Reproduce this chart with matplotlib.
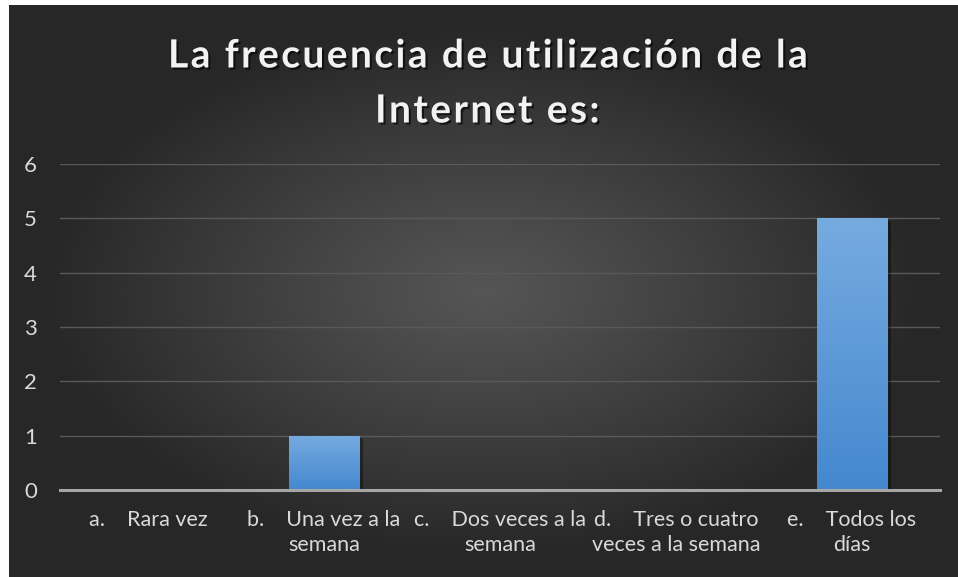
import numpy as np
import matplotlib.pyplot as plt
import matplotlib.patheffects as pe

categories = ["a.    Rara vez", "b.    Una vez a la\nsemana", "c.    Dos veces a la\nsemana",
              "d.    Tres o cuatro\nveces a la semana", "e.    Todos los\ndías"]
values = [0, 1, 0, 0, 5]
yticks = [0, 1, 2, 3, 4, 5, 6]
title_lines = ["La frecuencia de utilización de la", "Internet es:"]

W, H = 958, 577
fig = plt.figure(figsize=(W / 100, H / 100), dpi=100, facecolor="white")
fam = ["Lato", "DejaVu Sans"]

# radial gradient background
bg = fig.add_axes([9 / W, 0, (W - 9) / W, (H - 5) / H])
bg.set_axis_off()
yy, xx = np.mgrid[0:1:300j, 0:1:500j]
r = np.sqrt(((xx - 0.5) / 0.75) ** 2 + ((yy - 0.5) / 0.75) ** 2)
t = np.clip(r / 0.62, 0, 1) ** 1.1
c0 = np.array([0x55, 0x55, 0x55]) / 255
c1 = np.array([0x27, 0x27, 0x27]) / 255
img = c0[None, None, :] + (c1 - c0)[None, None, :] * t[:, :, None]
bg.imshow(img, aspect="auto", extent=[0, 1, 0, 1])
bg.set_xlim(0, 1)
bg.set_ylim(0, 1)

ax = fig.add_axes([60 / W, 87 / H, 880 / W, 326 / H])
ax.set_facecolor("none")
x = np.arange(len(categories))
bars = ax.bar(x, values, width=0.4, color="#5b9bd5", zorder=3)
grad = np.linspace(0, 1, 100)[:, None]
top = np.array([0x76, 0xab, 0xe0]) / 255
bot = np.array([0x45, 0x88, 0xcf]) / 255
gimg = top[None, None, :] + (bot - top)[None, None, :] * grad[:, :, None]
for b in bars:
    if b.get_height() == 0:
        continue
    b.set_path_effects([pe.SimplePatchShadow(offset=(3, -2), shadow_rgbFace="black", alpha=0.35), pe.Normal()])
    im = ax.imshow(gimg, aspect="auto", zorder=4,
                   extent=[b.get_x(), b.get_x() + b.get_width(), 0, b.get_height()])
    im.set_clip_path(b)

ax.set_xlim(-0.5, len(categories) - 0.5)
ax.set_ylim(0, 6)
ax.set_yticks(yticks)
ax.set_xticks(x)
ax.set_xticklabels(categories, fontsize=15.5, color="#d9d9d9", family=fam,
                   linespacing=1.3, multialignment="center")
for lab in ax.get_yticklabels():
    lab.set_fontsize(16)
    lab.set_color("#d9d9d9")
    lab.set_family(fam)
    lab.set_horizontalalignment("left")
ax.tick_params(axis="both", length=0)
ax.tick_params(axis="x", pad=14.5)
ax.tick_params(axis="y", pad=26)
for s in ["top", "right", "left"]:
    ax.spines[s].set_visible(False)
ax.spines["bottom"].set_color("#a6a6a6")
ax.spines["bottom"].set_linewidth(2.2)
ax.spines["bottom"].set_zorder(5)
ax.yaxis.grid(True, color="#595959", linewidth=1)
ax.set_axisbelow(True)

# title with letter spacing (hair spaces between characters)
shadow = [pe.withSimplePatchShadow(offset=(1.5, -1.5), shadow_rgbFace="black", alpha=0.6)]
for i, line in enumerate(title_lines):
    spaced = "\u200a".join(line)
    fig.text(487 / W, 1 - (56 + 55 * i) / H, spaced, ha="center", va="center", fontsize=28,
             fontweight="bold", color="#f2f2f2", family=fam, path_effects=shadow)

fig.savefig("out.png", dpi=100, facecolor=fig.get_facecolor())
